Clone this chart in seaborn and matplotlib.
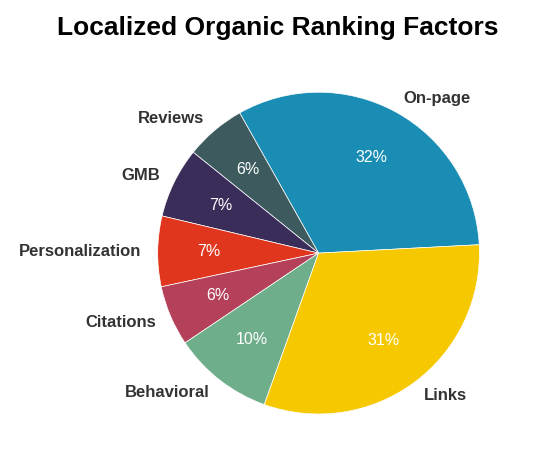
import matplotlib
matplotlib.use("Agg")
import matplotlib.pyplot as plt
import seaborn as sns

sns.set_theme(style="white")
plt.rcParams['font.family'] = ['Liberation Sans', 'DejaVu Sans']

categories = ["On-page", "Reviews", "GMB", "Personalization", "Citations", "Behavioral", "Links"]
values = [32, 6, 7, 7, 6, 10, 31]
colors = ["#1a8db5", "#3d5b5e", "#3a2d5a", "#e0361e", "#b5405a", "#6fae8a", "#f5c800"]

fig = plt.figure(figsize=(5.55, 4.5), dpi=100)
ax = fig.add_axes([0.284, 0.08, 0.58, 0.715])
wedges, texts, autotexts = ax.pie(
    values, labels=categories, colors=colors, startangle=3, counterclock=True,
    autopct=lambda p: f"{round(p * sum(values) / 100):d}%", pctdistance=0.68, labeldistance=1.1,
    wedgeprops=dict(linewidth=0.5, edgecolor="white"),
    textprops=dict(fontsize=12, color="#333333", fontweight="bold"))
for t in autotexts:
    t.set_color("white")
    t.set_fontweight("normal")
    t.set_fontsize(11.5)
for t in texts + autotexts:
    t.set_clip_on(False)
ax.set_xlim(-1, 1)
ax.set_ylim(-1, 1)
ax.set_aspect("equal")
fig.suptitle("Localized Organic Ranking Factors", x=0.5, y=0.965, fontsize=19, fontweight="bold", color="black")
fig.savefig("out.png", dpi=100, facecolor="white")
